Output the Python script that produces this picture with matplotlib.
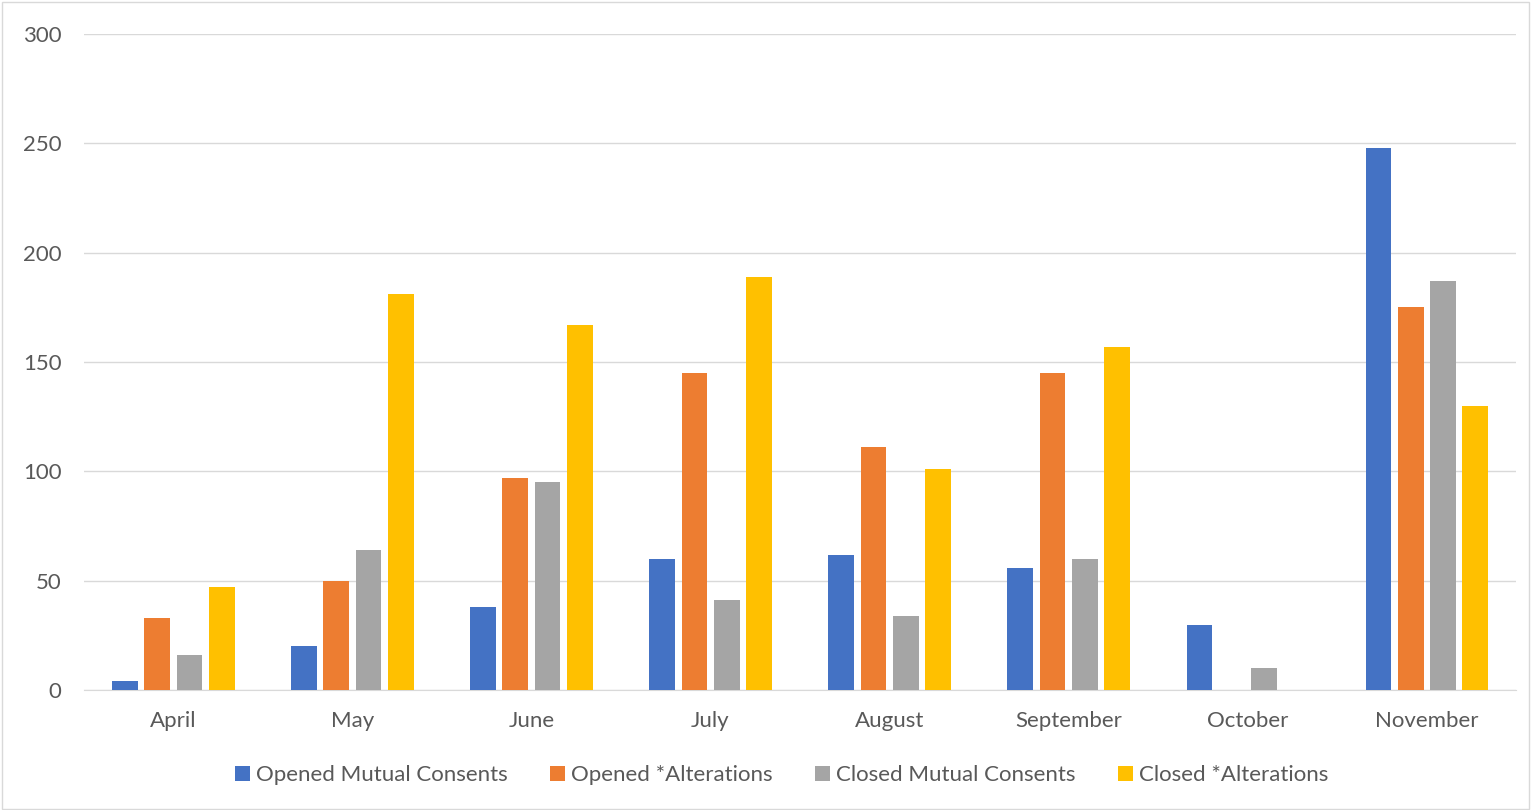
import matplotlib.pyplot as plt
import numpy as np
from matplotlib.patches import Rectangle

months = ["April", "May", "June", "July", "August", "September", "October", "November"]
opened_mc = [4, 20, 38, 60, 62, 56, 30, 248]
opened_alt = [33, 50, 97, 145, 111, 145, 0, 175]
closed_mc = [16, 64, 95, 41, 34, 60, 10, 187]
closed_alt = [47, 181, 167, 189, 101, 157, 0, 130]

series = [
    ("Opened Mutual Consents", opened_mc, "#4472c4"),
    ("Opened *Alterations", opened_alt, "#ed7d31"),
    ("Closed Mutual Consents", closed_mc, "#a5a5a5"),
    ("Closed *Alterations", closed_alt, "#ffc000"),
]

plt.rcParams['font.family'] = ['Lato', 'DejaVu Sans']

fig = plt.figure(figsize=(15.32, 8.10), dpi=100)
ax = fig.add_axes([0.0548, 0.148, 0.9348, 0.810])

x = np.arange(len(months))
step = 0.179
width = 0.145
for i, (name, vals, col) in enumerate(series):
    ax.bar(x + (i - 1.5) * step, vals, width, color=col, label=name, zorder=3)

ax.set_xlim(-0.5, len(months) - 0.5)
ax.set_ylim(0, 300)
ax.set_yticks(range(0, 301, 50))
ax.set_xticks(x)
ax.set_xticklabels(months)
ax.grid(axis='y', color='#d9d9d9', linewidth=1, zorder=0)
for s in ['top', 'right', 'left']:
    ax.spines[s].set_visible(False)
ax.spines['bottom'].set_color('#d9d9d9')
ax.tick_params(axis='both', length=0, colors='#595959', labelsize=16)
ax.tick_params(axis='x', pad=15)
ax.tick_params(axis='y', pad=16)

fig.legend(loc='lower center', bbox_to_anchor=(0.51, 0.006), ncol=4, frameon=False,
           fontsize=16, labelcolor='#595959', handlelength=0.7, handleheight=0.7,
           handletextpad=0.25, columnspacing=1.9)

fig.patches.append(Rectangle((0.001, 0.001), 0.997, 0.997, transform=fig.transFigure,
                             fill=False, edgecolor='#d9d9d9', linewidth=1))

fig.savefig("out.png", dpi=100)
